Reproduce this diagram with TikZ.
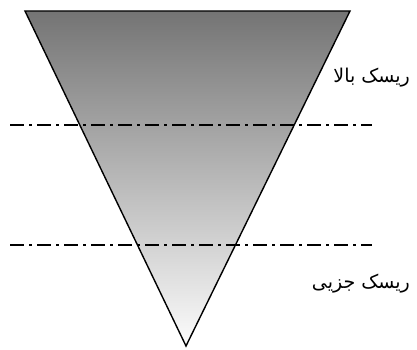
\documentclass[tikz,border=0pt]{standalone}
\usepackage{fontspec}
\newfontfamily\arabicfont[Script=Arabic]{DejaVu Sans}
\TeXXeTstate=1
\usetikzlibrary{positioning}
\definecolor{topgray}{HTML}{747474}
\definecolor{bottomgray}{HTML}{FCFCFC}

\begin{document}
\begin{tikzpicture}[
    x=1pt, y=-1pt,
    funnel/.style={draw=black, line width=1.4pt, top color=topgray, bottom color=bottomgray},
    riskline/.style={draw=black, line width=1.2pt, dash pattern=on 14pt off 5pt on 3pt off 5pt},
    risklabel/.style={font=\arabicfont\fontsize{19}{22}\selectfont, anchor=east, inner sep=0pt}
]
\useasboundingbox (0,0) rectangle (417,350);

% Funnel corners
\coordinate (tl) at (25,11);
\coordinate (tr) at (350,11);
\coordinate (apex) at (186,346);
\path[funnel] (tl) -- (tr) -- (apex) -- cycle;

% Risk levels
\coordinate (highL) at (10,125);
\coordinate (highR) at (372,125);
\coordinate (lowL) at (10,245);
\coordinate (lowR) at (372,245);
\draw[riskline] (highL) -- (highR);
\draw[riskline] (lowL) -- (lowR);

% Labels
\node[risklabel] (high) at (410,78) {\beginR ریسک بالا\endR};
\node[risklabel] (low) at (410,284) {\beginR ریسک جزیی\endR};

\end{tikzpicture}
\end{document}
